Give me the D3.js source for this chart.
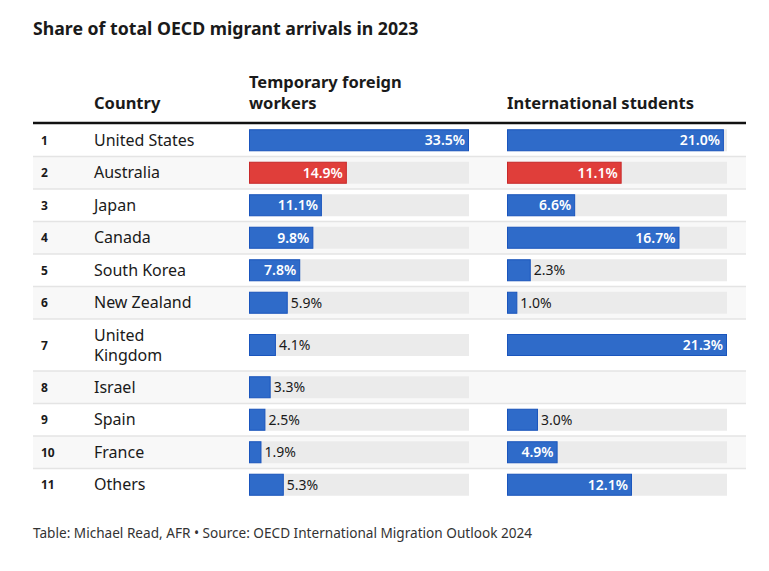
<!DOCTYPE html>
<html><head><meta charset="utf-8">
<script src="https://cdn.jsdelivr.net/npm/d3@7"></script>
<style>
body{margin:0;background:#fff;}
text{font-family:"Noto Sans",sans-serif;}
</style></head>
<body><svg id="c" width="769" height="571"></svg>
<script>
const title = "Share of total OECD migrant arrivals in 2023";
const footer = "Table: Michael Read, AFR \u2022 Source: OECD International Migration Outlook 2024";
const ranks = [1,2,3,4,5,6,7,8,9,10,11];
const countries = ["United States","Australia","Japan","Canada","South Korea","New Zealand","United Kingdom","Israel","Spain","France","Others"];
const workers = [33.5,14.9,11.1,9.8,7.8,5.9,4.1,3.3,2.5,1.9,5.3];
const students = [21.0,11.1,6.6,16.7,2.3,1.0,21.3,null,3.0,4.9,12.1];
const highlight = "Australia";
const colHeaders = ["Country","Temporary foreign workers","International students"];

const svg = d3.select("#c");
const L = 33, R = 746;
const blue = "#2f6bc9", blueS = "#1a55bd", red = "#e03e3a", redS = "#c8282a";

svg.append("text").attr("x", L).attr("y", 35).attr("font-size", 17.7).attr("font-weight", 700)
  .attr("fill", "#1a1a1a").text(title);

// headers
const hdr = svg.append("g").attr("font-weight", 700).attr("font-size", 16.5).attr("fill", "#1a1a1a");
hdr.append("text").attr("x", 94).attr("y", 109).text(colHeaders[0]);
hdr.append("text").attr("x", 249).attr("y", 88).text("Temporary foreign");
hdr.append("text").attr("x", 249).attr("y", 109).text("workers");
hdr.append("text").attr("x", 507).attr("y", 109).text(colHeaders[2]);

const top0 = 124;
const nameLines = countries.map(c => c === "United Kingdom" ? ["United","Kingdom"] : [c]);
const rowH = nameLines.map(l => l.length > 1 ? 52 : 32.5);
const rowY = [];
let acc = top0;
rowH.forEach(h => { rowY.push(acc); acc += h; });

const xW = d3.scaleLinear().domain([0, d3.max(workers)]).range([249, 469]);
const xS = d3.scaleLinear().domain([0, d3.max(students.filter(v => v != null))]).range([507, 727]);

const rows = svg.append("g").selectAll("g").data(countries).join("g")
  .attr("transform", (d, i) => `translate(0,${rowY[i]})`);

rows.append("rect").attr("x", L).attr("y", 0).attr("width", R - L)
  .attr("height", (d, i) => rowH[i]).attr("fill", (d, i) => i % 2 === 1 ? "#f8f8f8" : "#fff");
rows.filter((d, i) => i > 0).append("line").attr("x1", L).attr("x2", R).attr("y1", 0).attr("y2", 0)
  .attr("stroke", "#e4e4e4").attr("stroke-width", 1.5);

rows.append("text").attr("x", 41).attr("y", (d, i) => rowH[i] / 2 + 4.5)
  .attr("font-size", 12).attr("font-weight", 700).attr("fill", "#1a1a1a").text((d, i) => ranks[i]);

rows.each(function(d, i) {
  const g = d3.select(this);
  const lines = nameLines[i];
  const t = g.append("text").attr("font-size", 16).attr("fill", "#1a1a1a");
  const start = rowH[i] / 2 + 5.5 - (lines.length - 1) * 10;
  lines.forEach((ln, k) => t.append("tspan").attr("x", 94).attr("y", start + k * 20).text(ln));
});

function barCol(vals, x) {
  rows.each(function(d, i) {
    const v = vals[i];
    if (v == null) return;
    const g = d3.select(this);
    const h = 22, y = rowH[i] / 2 - h / 2;
    const [x0, x1] = x.range();
    g.append("rect").attr("x", x0).attr("y", y).attr("width", x1 - x0).attr("height", h).attr("fill", "#ebebeb");
    const hl = d === highlight;
    const w = x(v) - x0;
    g.append("rect").attr("x", x0 + 0.5).attr("y", y + 0.5).attr("width", w - 1).attr("height", h - 1)
      .attr("fill", hl ? red : blue).attr("stroke", hl ? redS : blueS).attr("stroke-width", 1);
    const inside = w > 45;
    g.append("text").attr("x", inside ? x(v) - 4 : x(v) + 3).attr("y", rowH[i] / 2 + 5)
      .attr("text-anchor", inside ? "end" : "start").attr("font-size", 14)
      .attr("font-weight", inside ? 600 : 400)
      .attr("fill", inside ? "#fff" : "#1a1a1a").text(v.toFixed(1) + "%");
  });
}
barCol(workers, xW);
barCol(students, xS);

svg.append("line").attr("x1", L).attr("x2", R).attr("y1", 123).attr("y2", 123)
  .attr("stroke", "#111").attr("stroke-width", 2.5);

svg.append("text").attr("x", L).attr("y", 538).attr("font-size", 13.6).attr("fill", "#333").text(footer);
</script></body></html>
